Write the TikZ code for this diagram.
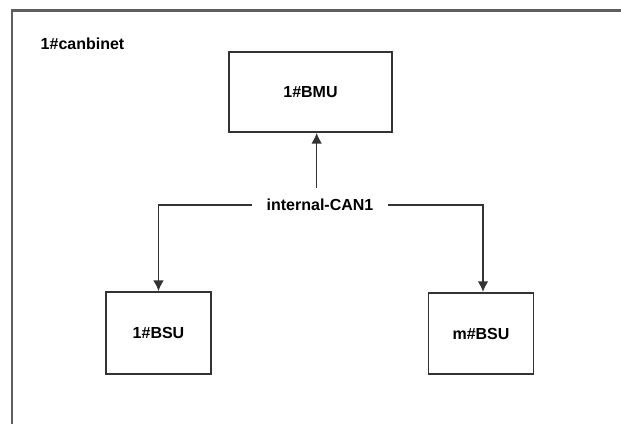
\documentclass[tikz,border=0pt]{standalone}
\usepackage{fontspec}
\setmainfont{Liberation Sans}
\usepackage{tikz}
\usetikzlibrary{arrows.meta,positioning}
\definecolor{framegray}{HTML}{5F5F5F}
\definecolor{linegray}{HTML}{333333}

\begin{document}
\begin{tikzpicture}[
  x=0.75pt,y=-0.75pt,
  font=\fontsize{12}{14}\selectfont\bfseries,
  unit/.style={draw=linegray,line width=1.3pt,fill=white,align=center,inner sep=0pt},
  bus/.style={inner xsep=11pt,inner ysep=0pt,minimum height=25.5pt},
  arr/.style={-{Latex[length=8pt,width=8pt]},line width=1.2pt,linegray}
]
\useasboundingbox (0,0) rectangle (621,424);
% cabinet frame, only its top and left edges are in view
\draw[framegray,line width=1.6pt] (12,424) |- (621,10.5);
\node[anchor=west] (cab) at (36,44) {1\#canbinet};
\node[unit,minimum width=122.25pt,minimum height=60pt] (bmu) at (310.5,92) {1\#BMU};
\node[bus] (can) at (320,205) {internal-CAN1};
\node[unit,minimum width=78.75pt,minimum height=61.5pt] (bsu1) at (158.5,333) {1\#BSU};
\node[unit,minimum width=78.75pt,minimum height=61pt] (bsum) at (481,333.5) {m\#BSU};
\draw[arr] ([xshift=-2.5pt]can.north) -- ([xshift=-2.5pt]can.north |- bmu.south);
\draw[arr] (can.west) -| (bsu1.north);
\draw[arr] (can.east) -| ([xshift=1.5pt]bsum.north);
\end{tikzpicture}
\end{document}
